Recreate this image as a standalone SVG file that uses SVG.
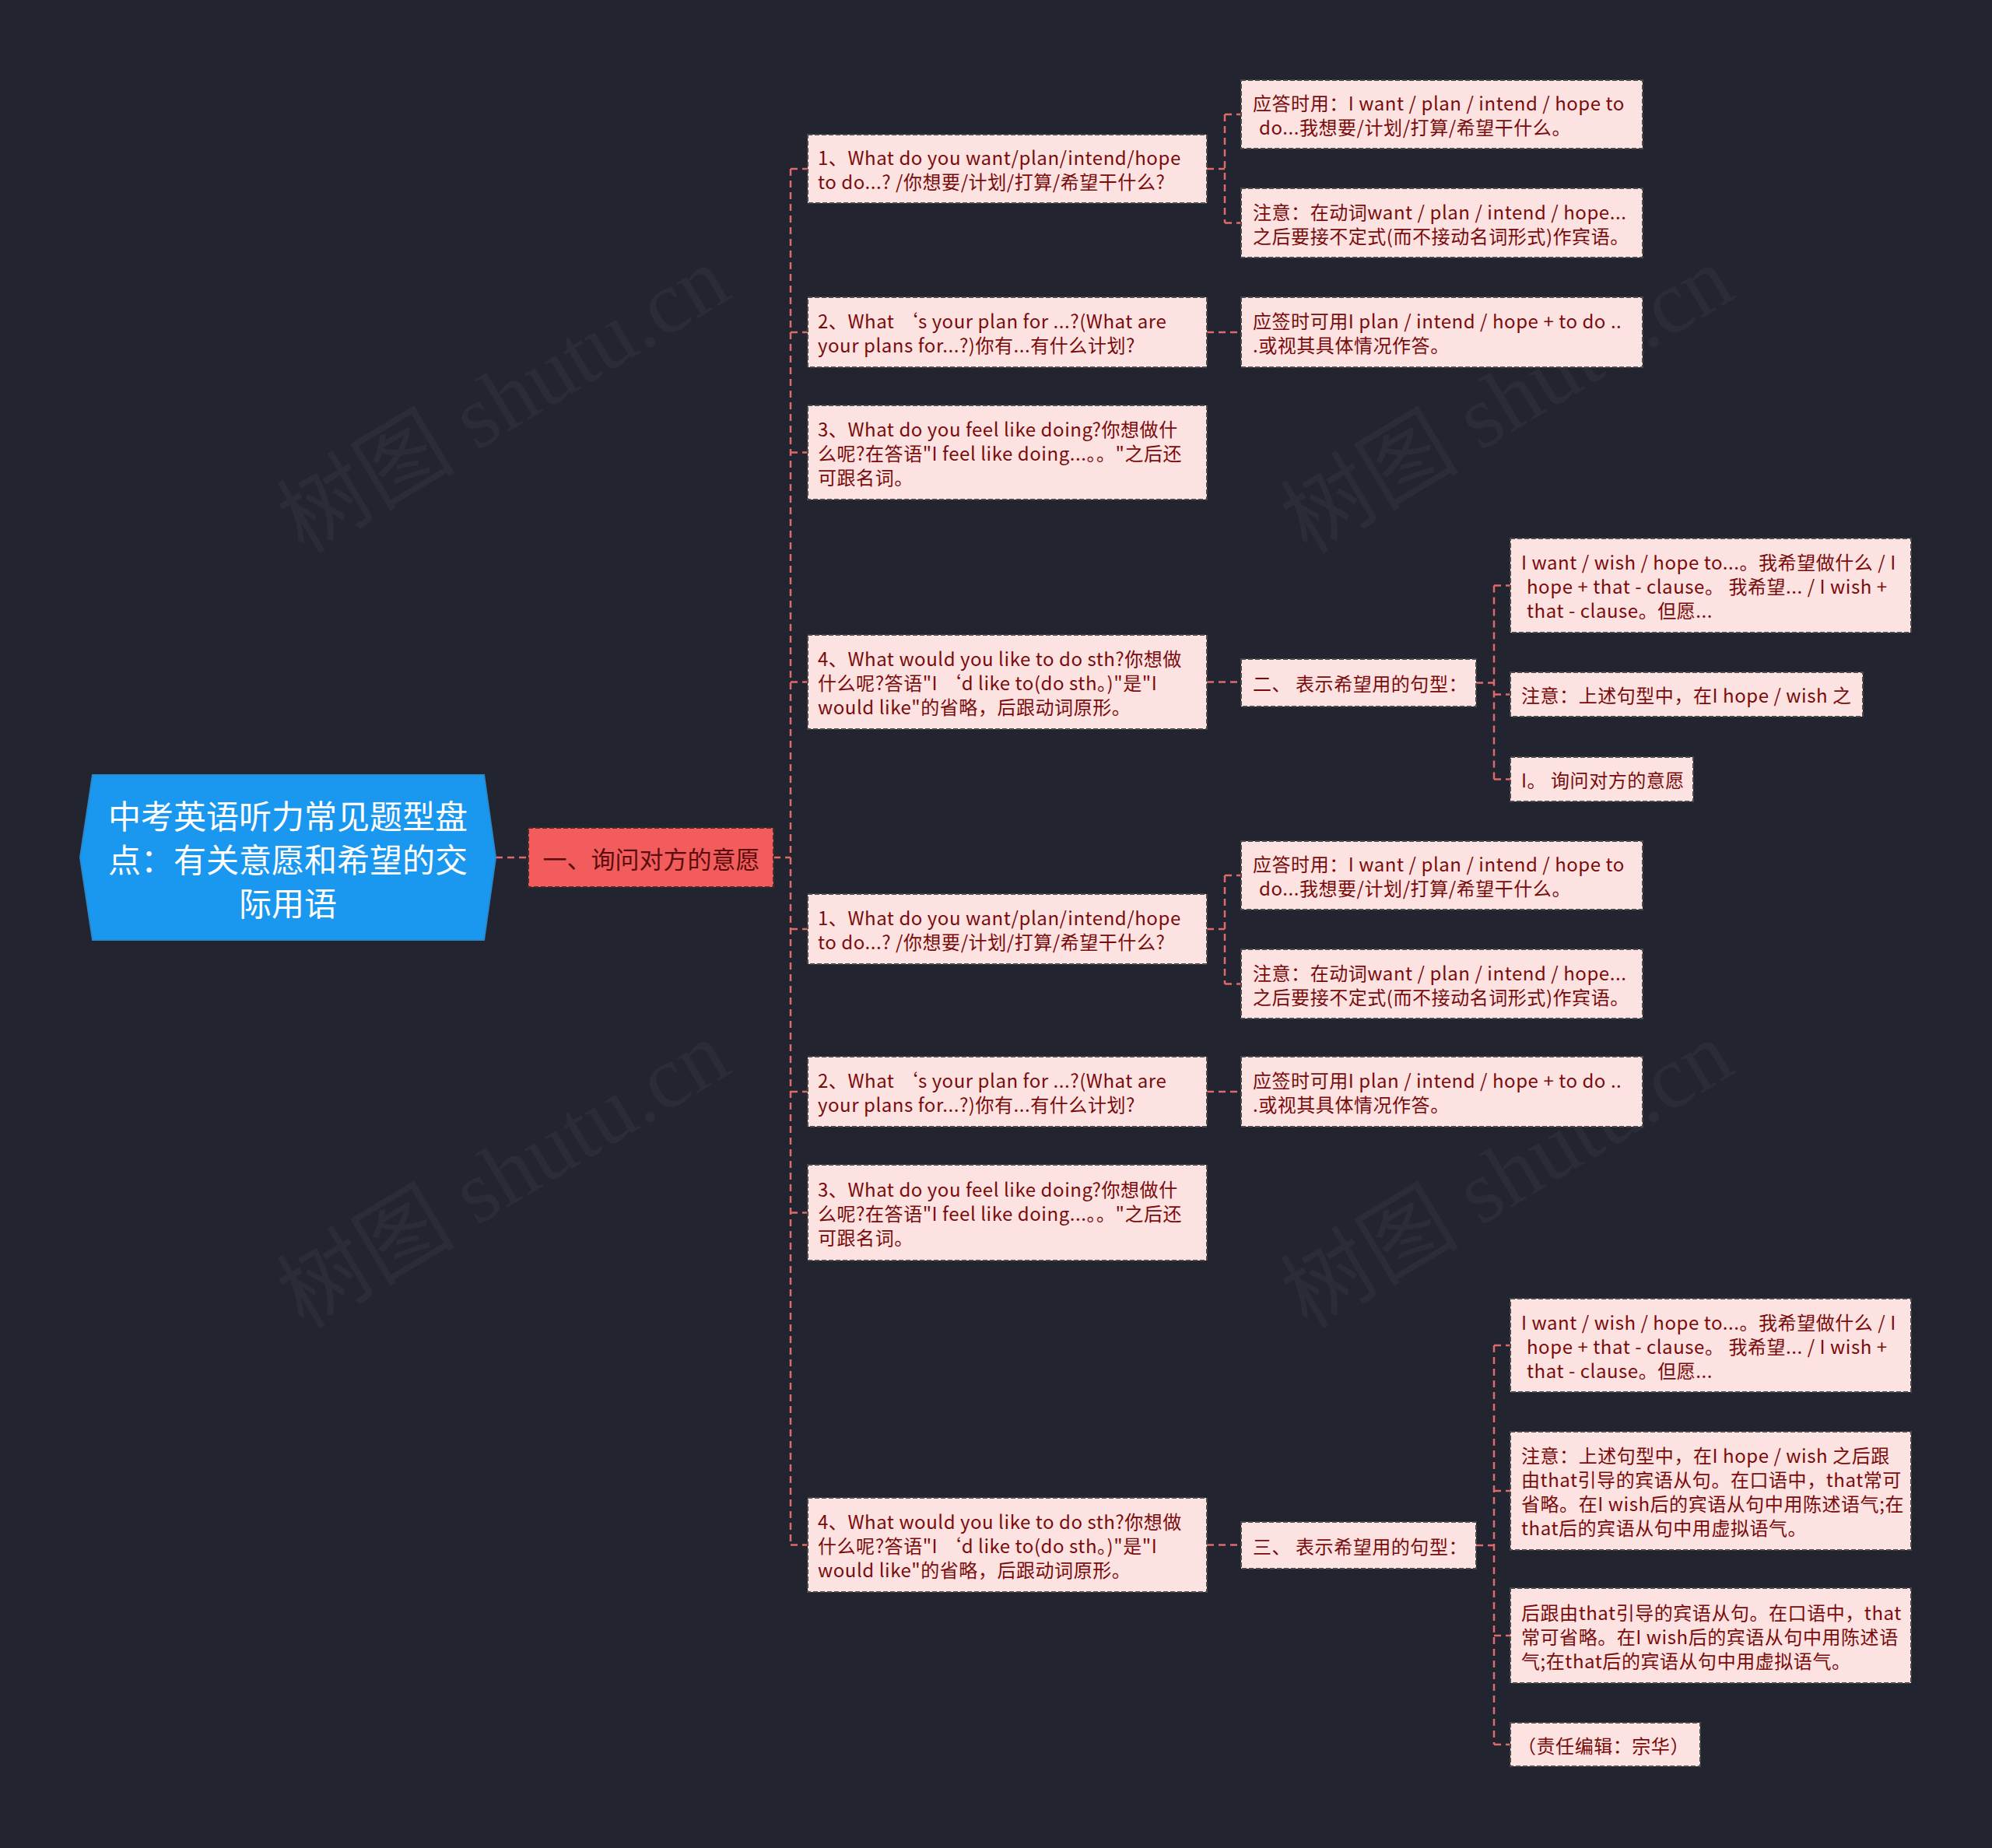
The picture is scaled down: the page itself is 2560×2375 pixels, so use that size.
<svg xmlns="http://www.w3.org/2000/svg" width="2560" height="2375" viewBox="0 0 2560 2375">
<style>
.bg{fill:#222530}
.wm{font-family:"Liberation Serif","Noto Sans CJK SC",serif;font-size:115px;fill:#2a2d38}
.box{fill:#fde2e2;stroke:#4a4a4a;stroke-width:2;stroke-dasharray:6 3}
.t{font-family:"Noto Sans CJK SC","Noto Sans",sans-serif;font-size:24px;letter-spacing:0.55px;fill:#7a0b0b;dominant-baseline:central}
.c{fill:none;stroke:#e06a6a;stroke-width:2.5;stroke-dasharray:9 6}
.title{font-family:"Noto Sans CJK SC","Noto Sans",sans-serif;font-size:42px;fill:#ffffff;text-anchor:middle;dominant-baseline:central}
.l1t{font-family:"Noto Sans CJK SC","Noto Sans",sans-serif;font-size:31px;fill:#5a0d0d;text-anchor:middle;dominant-baseline:central}
</style>
<rect class="bg" x="0" y="0" width="2560" height="2375"/>
<g id="watermarks">
<text class="wm" transform="translate(647,514) rotate(-31)" text-anchor="middle" dominant-baseline="central">树图 shutu.cn</text>
<text class="wm" transform="translate(1937,514) rotate(-31)" text-anchor="middle" dominant-baseline="central">树图 shutu.cn</text>
<text class="wm" transform="translate(647,1510) rotate(-31)" text-anchor="middle" dominant-baseline="central">树图 shutu.cn</text>
<text class="wm" transform="translate(1937,1510) rotate(-31)" text-anchor="middle" dominant-baseline="central">树图 shutu.cn</text>
</g>
<g id="connectors">
<path class="c" d="M637,1102 H679"/>
<path class="c" d="M994,1102 H1016"/>
<path class="c" d="M1016,217 V1985.5"/>
<path class="c" d="M1016,217 H1038 M1016,427 H1038 M1016,581.5 H1038 M1016,876.5 H1038 M1016,1194 H1038 M1016,1403 H1038 M1016,1558.5 H1038 M1016,1985.5 H1038"/>
<path class="c" d="M1551,217 H1574 M1574,147 V286.5 M1574,147 H1595 M1574,286.5 H1595"/>
<path class="c" d="M1551,1194 H1574 M1574,1125 V1264.5 M1574,1125 H1595 M1574,1264.5 H1595"/>
<path class="c" d="M1551,427 H1595 M1551,1403 H1595 M1551,876.5 H1595 M1551,1985.5 H1595"/>
<path class="c" d="M1897,877.5 H1920 M1920,752.5 V1001.5 M1920,752.5 H1941 M1920,892.5 H1941 M1920,1001.5 H1941"/>
<path class="c" d="M1897,1986 H1920 M1920,1729 V2242 M1920,1729 H1941 M1920,1916 H1941 M1920,2102 H1941 M1920,2242 H1941"/>
</g>
<g id="root">
<polygon points="103,1102 119,996 622,996 637,1102 622,1208 119,1208" fill="#1a97ef" stroke="#2a8ad0" stroke-width="2"/>
<text class="title" x="370" y="1046">中考英语听力常见题型盘</text>
<text class="title" x="370" y="1102">点：有关意愿和希望的交</text>
<text class="title" x="370" y="1158">际用语</text>
</g>
<g id="n1">
<rect x="679" y="1064" width="315" height="76" fill="#f25c5c" stroke="#4a2a2a" stroke-width="2" stroke-dasharray="6 3"/>
<text class="l1t" x="837" y="1102">一、询问对方的意愿</text>
</g>
<g id="n1_1">
<rect class="box" x="1038" y="173" width="513" height="88"/>
<text class="t" x="1051" y="201.5">1、What do you want/plan/intend/hope</text>
<text class="t" x="1051" y="232.5">to do...? /你想要/计划/打算/希望干什么?</text>
</g>
<g id="n1_1_1">
<rect class="box" x="1595" y="103" width="516" height="88"/>
<text class="t" x="1610" y="131.5">应答时用：I want / plan / intend / hope to</text>
<text class="t" x="1618" y="162.5">do...我想要/计划/打算/希望干什么。</text>
</g>
<g id="n1_1_2">
<rect class="box" x="1595" y="242" width="516" height="89"/>
<text class="t" x="1610" y="271">注意：在动词want / plan / intend / hope...</text>
<text class="t" x="1610" y="302">之后要接不定式(而不接动名词形式)作宾语。</text>
</g>
<g id="n1_2">
<rect class="box" x="1038" y="382" width="513" height="90"/>
<text class="t" x="1051" y="411.5">2、What ‘s your plan for ...?(What are</text>
<text class="t" x="1051" y="442.5">your plans for...?)你有...有什么计划?</text>
</g>
<g id="n1_2_1">
<rect class="box" x="1595" y="382" width="516" height="90"/>
<text class="t" x="1610" y="411.5">应签时可用I plan / intend / hope + to do ..</text>
<text class="t" x="1610" y="442.5">.或视其具体情况作答。</text>
</g>
<g id="n1_3">
<rect class="box" x="1038" y="521" width="513" height="121"/>
<text class="t" x="1051" y="550.5">3、What do you feel like doing?你想做什</text>
<text class="t" x="1051" y="581.5">么呢?在答语"I feel like doing...。。"之后还</text>
<text class="t" x="1051" y="612.5">可跟名词。</text>
</g>
<g id="n1_4">
<rect class="box" x="1038" y="816" width="513" height="121"/>
<text class="t" x="1051" y="845.5">4、What would you like to do sth?你想做</text>
<text class="t" x="1051" y="876.5">什么呢?答语"I ‘d like to(do sth。)"是"I</text>
<text class="t" x="1051" y="907.5">would like"的省略，后跟动词原形。</text>
</g>
<g id="n1_4_1">
<rect class="box" x="1595" y="847" width="302" height="61"/>
<text class="t" x="1610" y="877.5">二、 表示希望用的句型：</text>
</g>
<g id="n1_4_1_1">
<rect class="box" x="1941" y="692" width="515" height="121"/>
<text class="t" x="1955" y="721.5">I want / wish / hope to...。我希望做什么 / I</text>
<text class="t" x="1962" y="752.5">hope + that - clause。 我希望... / I wish +</text>
<text class="t" x="1962" y="783.5">that - clause。但愿...</text>
</g>
<g id="n1_4_1_2">
<rect class="box" x="1941" y="864" width="453" height="57"/>
<text class="t" x="1955" y="892.5">注意：上述句型中，在I hope / wish 之</text>
</g>
<g id="n1_4_1_3">
<rect class="box" x="1941" y="973" width="235" height="57"/>
<text class="t" x="1955" y="1001.5">I。 询问对方的意愿</text>
</g>
<g id="n1_5">
<rect class="box" x="1038" y="1149" width="513" height="90"/>
<text class="t" x="1051" y="1178.5">1、What do you want/plan/intend/hope</text>
<text class="t" x="1051" y="1209.5">to do...? /你想要/计划/打算/希望干什么?</text>
</g>
<g id="n1_5_1">
<rect class="box" x="1595" y="1081" width="516" height="88"/>
<text class="t" x="1610" y="1109.5">应答时用：I want / plan / intend / hope to</text>
<text class="t" x="1618" y="1140.5">do...我想要/计划/打算/希望干什么。</text>
</g>
<g id="n1_5_2">
<rect class="box" x="1595" y="1220" width="516" height="89"/>
<text class="t" x="1610" y="1249">注意：在动词want / plan / intend / hope...</text>
<text class="t" x="1610" y="1280">之后要接不定式(而不接动名词形式)作宾语。</text>
</g>
<g id="n1_6">
<rect class="box" x="1038" y="1358" width="513" height="90"/>
<text class="t" x="1051" y="1387.5">2、What ‘s your plan for ...?(What are</text>
<text class="t" x="1051" y="1418.5">your plans for...?)你有...有什么计划?</text>
</g>
<g id="n1_6_1">
<rect class="box" x="1595" y="1358" width="516" height="90"/>
<text class="t" x="1610" y="1387.5">应签时可用I plan / intend / hope + to do ..</text>
<text class="t" x="1610" y="1418.5">.或视其具体情况作答。</text>
</g>
<g id="n1_7">
<rect class="box" x="1038" y="1497" width="513" height="123"/>
<text class="t" x="1051" y="1527.5">3、What do you feel like doing?你想做什</text>
<text class="t" x="1051" y="1558.5">么呢?在答语"I feel like doing...。。"之后还</text>
<text class="t" x="1051" y="1589.5">可跟名词。</text>
</g>
<g id="n1_8">
<rect class="box" x="1038" y="1925" width="513" height="121"/>
<text class="t" x="1051" y="1954.5">4、What would you like to do sth?你想做</text>
<text class="t" x="1051" y="1985.5">什么呢?答语"I ‘d like to(do sth。)"是"I</text>
<text class="t" x="1051" y="2016.5">would like"的省略，后跟动词原形。</text>
</g>
<g id="n1_8_1">
<rect class="box" x="1595" y="1956" width="302" height="60"/>
<text class="t" x="1610" y="1986">三、 表示希望用的句型：</text>
</g>
<g id="n1_8_1_1">
<rect class="box" x="1941" y="1669" width="515" height="120"/>
<text class="t" x="1955" y="1698">I want / wish / hope to...。我希望做什么 / I</text>
<text class="t" x="1962" y="1729">hope + that - clause。 我希望... / I wish +</text>
<text class="t" x="1962" y="1760">that - clause。但愿...</text>
</g>
<g id="n1_8_1_2">
<rect class="box" x="1941" y="1840" width="515" height="152"/>
<text class="t" x="1955" y="1869.5">注意：上述句型中，在I hope / wish 之后跟</text>
<text class="t" x="1955" y="1900.5">由that引导的宾语从句。在口语中，that常可</text>
<text class="t" x="1955" y="1931.5">省略。在I wish后的宾语从句中用陈述语气;在</text>
<text class="t" x="1955" y="1962.5">that后的宾语从句中用虚拟语气。</text>
</g>
<g id="n1_8_1_3">
<rect class="box" x="1941" y="2041" width="515" height="122"/>
<text class="t" x="1955" y="2071">后跟由that引导的宾语从句。在口语中，that</text>
<text class="t" x="1955" y="2102">常可省略。在I wish后的宾语从句中用陈述语</text>
<text class="t" x="1955" y="2133">气;在that后的宾语从句中用虚拟语气。</text>
</g>
<g id="n1_8_1_4">
<rect class="box" x="1941" y="2214" width="244" height="56"/>
<text class="t" x="1950" y="2242">（责任编辑：宗华）</text>
</g>
</svg>
